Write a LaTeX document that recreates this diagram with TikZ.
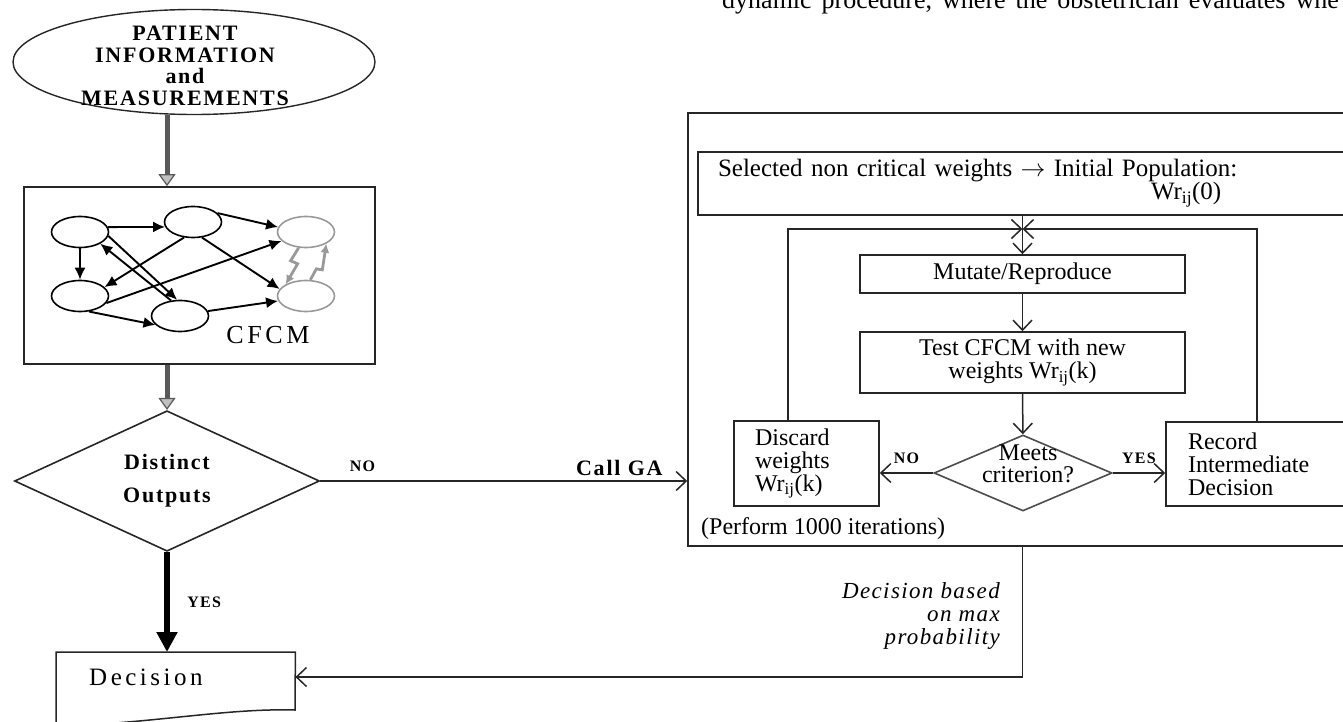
\documentclass[tikz,border=0pt]{standalone}
\usepackage{fontspec}
\setmainfont{Liberation Serif}
\newfontfamily\capsfont[LetterSpace=8]{Liberation Serif}
\newfontfamily\widefont[LetterSpace=14]{Liberation Serif}
\newfontfamily\notefont[LetterSpace=6]{Liberation Serif}
\usetikzlibrary{shapes.geometric,arrows.meta,positioning}

\newcommand{\wrij}{Wr\textsubscript{ij}}
\newcommand{\widespaces}{\spaceskip=10pt plus 2pt\relax}

\begin{document}
\begin{tikzpicture}[x=1pt,y=-1pt,
    font=\fontsize{24}{23}\selectfont,
    stepbox/.style={draw=black!85,line width=1.6pt,rectangle,inner sep=0pt},
    question/.style={draw=black!85,line width=1.6pt,diamond,inner sep=0pt},
    fcm/.style={draw,ellipse,line width=1.6pt,minimum width=57pt,minimum height=31pt,inner sep=0pt},
    fcmout/.style={fcm,draw=black!40},
    fcmedge/.style={line width=1.9pt,-{Latex[length=12pt,width=11pt]}},
    zigzag/.style={line width=2.8pt,draw=black!40,-{Latex[length=9pt,width=9pt]}},
    flow/.style={line width=1.5pt,draw=black!85,-{Straight Barb[length=10pt,width=19pt,line width=1.5pt]}},
    bigflow/.style={line width=5pt,draw=black!65,-{Triangle[length=12pt,width=17pt,fill=black!25,line width=1.2pt]}},
    yesflow/.style={line width=6pt,-{Triangle[length=20pt,width=20pt]}},
    tag/.style={font=\capsfont\bfseries\fontsize{16}{16}\selectfont}
  ]
  \useasboundingbox (0,0) rectangle (1343,722);
  \clip (0,0) rectangle (1343,722);

  % running text of the page, cut by the figure
  \node (PAGE) [anchor=base west,inner sep=0pt,font=\fontsize{26}{28}\selectfont\widespaces] at (722,9) {dynamic procedure, where the obstetrician evaluates whe};

  % input, CFCM and first decision
  \node (PI) [draw=black!85,line width=1.4pt,ellipse,minimum width=362pt,minimum height=105pt] at (194,62) {};
  \node (PIt) [align=center,font=\capsfont\bfseries\fontsize{22}{21.5}\selectfont] at (185,66) {PATIENT\\INFORMATION\\and\\MEASUREMENTS};

  \node (CF) [stepbox,minimum width=351pt,minimum height=177pt] at (199.5,275.5) {};
  \node (n1) [fcm] at (80,232) {};
  \node (n2) [fcm] at (193,222) {};
  \node (n3) [fcmout] at (306,232) {};
  \node (n4) [fcm] at (80,296) {};
  \node (n5) [fcm] at (180,316) {};
  \node (n6) [fcmout] at (306,296) {};
  \node (CFt) [font=\widefont\fontsize{26}{26}\selectfont] at (268,335) {CFCM};

  \path[fcmedge]
    (n1.10) edge (n2.190)
    (n1.south) edge (n4.north)
    (n2.20) edge (n3.170)
    (n2.240) edge (n4.20)
    (n2.300) edge (n6.165)
    (n4.345) edge (n3.200)
    (n4.300) edge (n5.200)
    (n5.10) edge (n6.190)
    (n1.-8) edge (n5.100)
    (n5.120) edge (n1.-30);
  \draw[zigzag] (n3.245) -- ++(-8,13) -- ++(7,3) -- (n6.150);
  \draw[zigzag] (n6.75) -- ++(6,-11) -- ++(6,1) -- (n3.-30);

  \node (DO) [question,minimum width=305pt,minimum height=92pt,align=center,font=\capsfont\bfseries\fontsize{22}{33}\selectfont] at (167,481) {Distinct\\Outputs};

  \node (DEC) [anchor=north west,minimum width=239pt,minimum height=50pt,text width=173pt,inner xsep=33pt,inner ysep=0pt,align=left,font=\widefont\fontsize{25}{25}\selectfont] at (56,652) {Decision};
  \draw[draw=black!85,line width=1.5pt] (DEC.north west) -- (DEC.north east) -- (295,710) .. controls (225,708) and (150,724) .. (56,726) -- cycle;

  % genetic algorithm
  \node (GA) [stepbox,minimum width=712pt,minimum height=433pt] at (1044,329.5) {};
  \node (SEL) [stepbox,minimum height=63pt,text width=662pt,inner xsep=20pt,align=left,font=\fontsize{25}{23}\selectfont\widespaces] at (1049,183.5) {Selected non critical weights $\rightarrow$ Initial Population:\\\hspace*{433pt}\wrij(0)};
  \node (MUT) [stepbox,minimum width=325pt,minimum height=38pt] at (1022.5,274) {Mutate/Reproduce};
  \node (TST) [stepbox,minimum width=325pt,minimum height=61pt,align=center] at (1022.5,362.5) {Test CFCM with new\\weights \wrij(k)};
  \node (MC) [question,draw=black!70,minimum width=178pt,minimum height=76pt] at (1023,473) {};
  \node (MCt) [align=center,font=\fontsize{24}{22}\selectfont] at (1028,464) {Meets\\criterion?};
  \node (DIS) [stepbox,minimum height=85pt,text width=103pt,inner xsep=21pt,align=left] at (806.5,463.5) {Discard\\weights\\\wrij(k)};
  \node (REC) [stepbox,minimum height=84pt,text width=190pt,inner xsep=22pt,align=left] at (1283,464) {Record\\Intermediate\\Decision};
  \node (ITER) [anchor=west,inner sep=0pt] at (701,529) {(Perform 1000 iterations)};
  \node (MAX) [anchor=east,inner sep=0pt,align=right,font=\notefont\itshape\fontsize{23}{23}\selectfont] at (1000,616) {Decision based\\on max\\probability};

  \coordinate (LT) at (788,229);
  \coordinate (RT) at (1257,229);
  \coordinate (J) at (1022.5,229);
  \coordinate (BK) at (1022.5,677);

  % connectors
  \draw[bigflow] (PI.south -| DO.north) -- (CF.north -| DO.north);
  \draw[bigflow] (CF.south -| DO.north) -- (DO.north);
  \draw[yesflow] (DO.south) -- (DEC.north -| DO.south) node[tag,midway,right=14pt] {YES};
  \draw[flow] (DO.east) -- (GA.west |- DO.east)
    node[tag,pos=0.115,above=5pt] {NO}
    node[tag,pos=0.815,above=1pt,font=\capsfont\bfseries\fontsize{22}{22}\selectfont] {Call GA};

  \draw[flow] (SEL.south -| MUT.north) -- (MUT.north);
  \draw[flow] (DIS.north -| LT) -- (LT) -- (J);
  \draw[flow] (REC.north -| RT) -- (RT) -- (J);
  \draw[flow] (MUT) -- (TST);
  \draw[flow] (TST) -- (MC);
  \draw[flow] (MC.west) -- (DIS.east |- MC.west) node[tag,midway,above=5pt] {NO};
  \draw[flow] (MC.east) -- (REC.west |- MC.east) node[tag,midway,above=5pt] {YES};
  \draw[flow] (GA.south -| BK) -- (BK) -- (DEC.east |- BK);
\end{tikzpicture}
\end{document}
